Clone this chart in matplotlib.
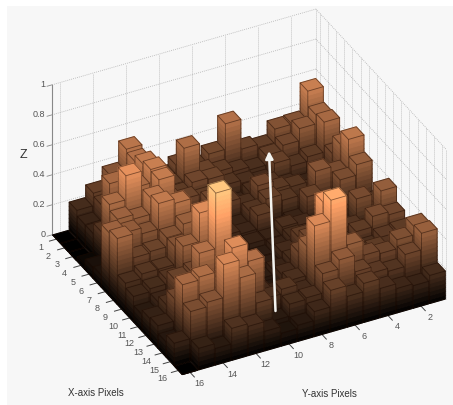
import matplotlib
matplotlib.use("Agg")
import matplotlib.pyplot as plt
from matplotlib.patches import Rectangle, FancyArrowPatch
from mpl_toolkits.mplot3d.art3d import Poly3DCollection, Line3DCollection
from mpl_toolkits.mplot3d import proj3d
import numpy as np

plt.rcParams['font.family'] = ['Liberation Sans', 'DejaVu Sans']

x_ticks = list(range(1, 17))
y_ticks = [2, 4, 6, 8, 10, 12, 14, 16]
z_ticks = [0, 0.2, 0.4, 0.6, 0.8, 1]
z_labels = ['0', '0.2', '0.4', '0.6', '0.8', '1']

# rows are x pixels 1..16, columns are y pixels 1..16
z_values = [
    [.54, .355, .35, .26, .28, .48, .31, .25, .30, .25, .28, .50, .36, .27, .187, 0],
    [.44, .38, .30, .26, .20, .22, .25, .28, .47, .25, .22, .48, .33, .25, .15, 0],
    [.45, .25, .22, .27, .18, .20, .22, .29, .30, .25, .25, .52, .38, .45, .15, 0],
    [.30, .20, .15, .18, .22, .20, .15, .20, .25, .28, .30, .54, .45, .30, .22, .03],
    [.42, .22, .18, .23, .245, .30, .20, .25, .30, .22, .30, .53, .30, .62, .46, .07],
    [.51, .32, .36, .15, .23, .27, .22, .15, .20, .25, .20, .30, .50, .39, .42, .08],
    [.40, .33, .20, .28, .15, .13, .25, .16, .18, .22, .20, .49, .52, .35, .39, .42],
    [.20, .22, .20, .15, .18, .20, .15, .15, .12, .10, .12, .41, .35, .29, .28, .44],
    [.15, .32, .12, .18, .15, .19, .15, .12, .10, .12, .15, .30, .35, .23, .23, .20],
    [.40, .18, .22, .15, .20, .25, .18, .12, .10, .10, .12, .60, .41, .22, .19, .17],
    [.30, .32, .25, .20, .25, .30, .19, .15, .12, .10, .15, .35, .30, .28, .16, .11],
    [.25, .24, .20, .22, .25, .40, .30, .18, .10, .12, .20, .85, .48, .25, .20, .14],
    [.22, .20, .25, .25, .30, .66, .40, .20, .15, .18, .22, .40, .30, .30, .30, .15],
    [.40, .34, .28, .30, .40, .73, .59, .18, .23, .20, .48, .60, .30, .47, .45, .10],
    [.41, .30, .22, .24, .28, .39, .33, .20, .19, .11, .26, .46, .58, .36, .33, .15],
    [.187, .15, .163, .195, .26, .205, .277, .167, .107, .085, .13, .195, .213, .11, .143, 0],
]

fig = plt.figure(figsize=(4.53, 4.05), dpi=100, facecolor='white')
fig.add_artist(Rectangle((7 / 453, 0), 446 / 453, 399 / 405, transform=fig.transFigure,
                         facecolor='#f7f7f7', edgecolor='none', zorder=-5))

ax = fig.add_axes([25.4 / 453, -10.6 / 405, 435.4 / 453, 435.4 / 405],
                  projection='3d', computed_zorder=False)
ax.patch.set_alpha(0)
ax.set_proj_type('ortho')
ax.view_init(elev=33.8, azim=-27.3)
ax.set_box_aspect((283.5, 297, 180.5))
ax.set_axis_off()
ax.set_xlim(0.5, 16.5)
ax.set_ylim(16.5, 0.5)
ax.set_zlim(0, 1)

# walls
grid = dict(color='#b0b0b0', lw=0.6, ls=(0, (1, 1.4)), zorder=1)
for z in z_ticks:
    ax.plot([0.5, 0.5], [16.5, 0.5], [z, z], **grid)
    ax.plot([0.5, 16.5], [0.5, 0.5], [z, z], **grid)
for y in y_ticks:
    ax.plot([0.5, 0.5], [y, y], [0, 1], **grid)
    ax.plot([0.5, 16.5], [y, y], [0, 0], **grid)
for x in x_ticks:
    ax.plot([x, x], [0.5, 0.5], [0, 1], **grid)
    ax.plot([x, x], [0.5, 16.5], [0, 0], **grid)
ax.plot([0.5, 0.5], [0.5, 0.5], [0, 1], **grid)
ax.plot([16.5, 16.5], [0.5, 0.5], [0, 1], **grid)

tick_col = '#555555'
proj = ax.get_proj()


def tick_text(x, y, z, s, **kw):
    # text3D keeps unprojected positions, so project by hand
    xs, ys, _ = proj3d.proj_transform(x, y, z, proj)
    ax.text2D(xs, ys, s, transform=ax.transData, va='center', fontsize=6.5, color=tick_col, **kw)


# axis lines, ticks and their labels
ax.plot([0.5, 0.5], [16.5, 16.5], [0, 1], color='#888888', lw=0.8, zorder=2)
for z, lab in zip(z_ticks, z_labels):
    ax.plot([0.5, 0.5], [16.5, 16.8], [z, z], color='#888888', lw=0.6, zorder=2)
    tick_text(0.5, 16.9, z + 0.012, lab, ha='right')
for x in x_ticks:
    ax.plot([x, x], [16.5, 16.9], [0, 0], color='#444444', lw=0.7, zorder=2)
    tick_text(x, 17.45, -0.025, str(x), ha='center')
for y in y_ticks:
    ax.plot([16.5, 17.0], [y, y], [0, 0], color='#444444', lw=0.7, zorder=2)
    tick_text(17.6, y, -0.01, str(y), ha='center')


def bar_polys(xc, yc, h, w=0.47):
    # only the three faces seen from this view, sides cut up for the gradient
    x0, x1 = xc - w, xc + w
    y0, y1 = yc - w, yc + w
    levels = np.linspace(0, h, max(2, int(np.ceil(h / 0.03)) + 1))
    polys, cvals = [], []
    for lo, hi in zip(levels[:-1], levels[1:]):
        polys.append([(x1, y0, lo), (x1, y1, lo), (x1, y1, hi), (x1, y0, hi)])
        polys.append([(x0, y1, lo), (x1, y1, lo), (x1, y1, hi), (x0, y1, hi)])
        cvals += [(lo + hi) / 2] * 2
    top = [(x0, y0, h), (x1, y0, h), (x1, y1, h), (x0, y1, h)]
    polys.append(top)
    cvals.append(h)
    outline = [top + top[:1],
               [(x1, y0, h), (x1, y0, 0), (x1, y1, 0), (x1, y1, h)],
               [(x0, y1, h), (x0, y1, 0), (x1, y1, 0)]]
    return polys, cvals, outline


zmax = np.max(z_values)
cmap = plt.get_cmap('copper')
order = 10
# far corner first so nearer bars paint over it
for i, row in enumerate(z_values):
    for j, h in enumerate(row):
        polys, cvals, outline = bar_polys(i + 1, j + 1, h)
        cols = cmap(np.array(cvals) / zmax)
        faces = Poly3DCollection(polys, facecolors=cols, edgecolors=cols, linewidths=0.8, zorder=order)
        ax.add_collection3d(faces, autolim=False)
        lines = Line3DCollection(outline, colors=[(0.1, 0.03, 0.0, 0.5)], linewidths=0.6, zorder=order + 1)
        ax.add_collection3d(lines, autolim=False)
        order += 2

fig.text(23 / 453, 1 - 155 / 405, 'Z', fontsize=9, color='#333333', ha='center', va='center')
fig.text(96 / 453, 1 - 393 / 405, 'X-axis Pixels', fontsize=7, color='#333333', ha='center', va='center')
fig.text(329 / 453, 1 - 394 / 405, 'Y-axis Pixels', fontsize=7, color='#333333', ha='center', va='center')

ax2 = fig.add_axes([0, 0, 1, 1], facecolor='none')
ax2.set_axis_off()
ax2.set_xlim(0, 453)
ax2.set_ylim(405, 0)
ax2.add_patch(FancyArrowPatch((275.5, 311), (269, 151), arrowstyle='-|>', mutation_scale=11,
                              color='#f4f4f0', lw=1.8, shrinkA=0, shrinkB=0))

fig.savefig('out.png', dpi=100, facecolor='white')
